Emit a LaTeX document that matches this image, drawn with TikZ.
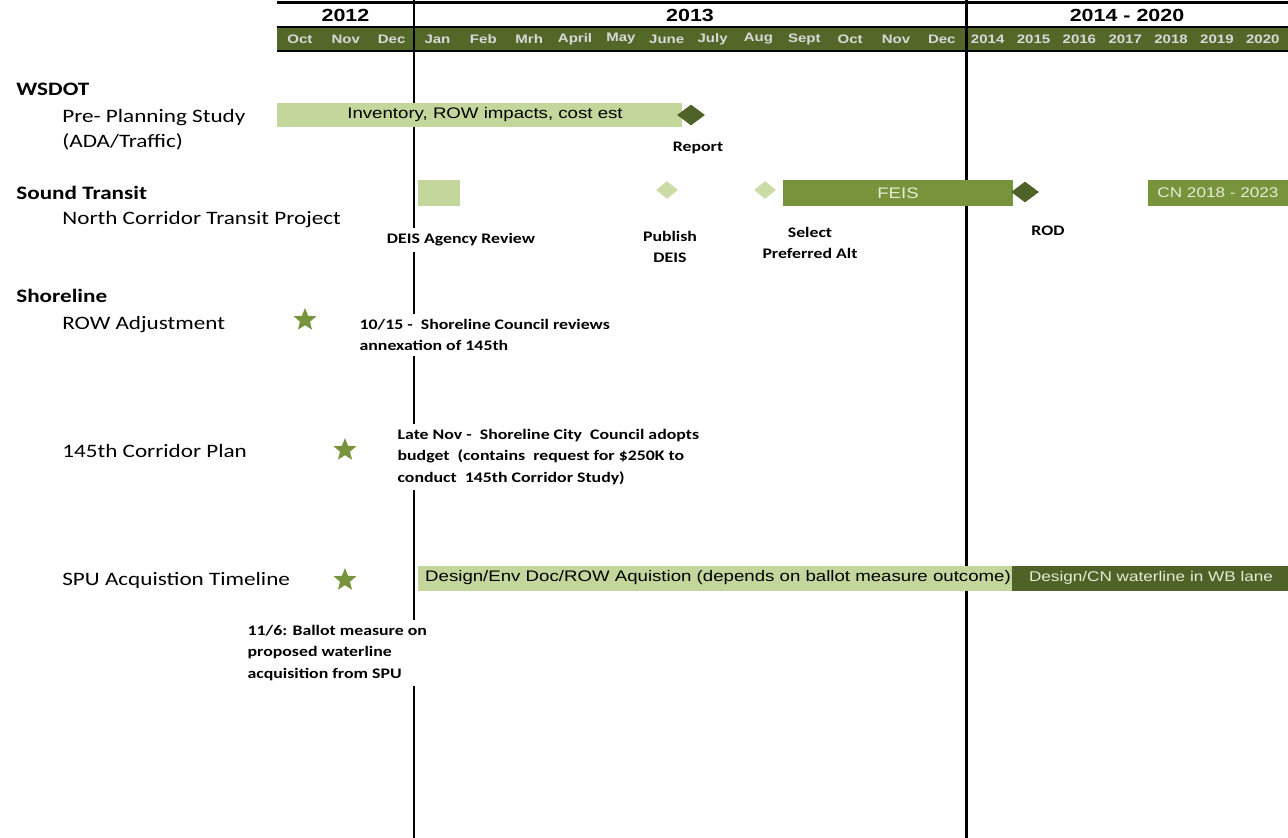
\documentclass[tikz,border=0pt]{standalone}
\usepackage{fontspec}
\setmainfont{Carlito}[FakeStretch=1.22]
\newfontfamily\arialfont{Liberation Sans}[FakeStretch=1.22]
\usepackage{tikz}
\usetikzlibrary{shapes.geometric}
\definecolor{bandgreen}{HTML}{536729}
\definecolor{darkolive}{HTML}{4F6228}
\definecolor{midolive}{HTML}{77933C}
\definecolor{lightolive}{HTML}{C3D69B}
\definecolor{paleolive}{HTML}{CCDCA6}
\definecolor{monthgrey}{HTML}{D9D9D9}
\definecolor{bartext}{HTML}{E6EDD5}
\tikzset{
  grid line/.style={line width=1.7pt},
  band line/.style={line width=1.2pt},
  year/.style={font=\arialfont\bfseries\fontsize{10}{12}\selectfont},
  month/.style={text=monthgrey, font=\arialfont\bfseries\fontsize{7}{8}\selectfont},
  group/.style={anchor=base west, inner sep=0pt, font=\bfseries\fontsize{10.8}{13}\selectfont},
  task/.style={anchor=base west, inner sep=0pt, font=\fontsize{10.8}{13}\selectfont},
  bar label/.style={font=\arialfont\fontsize{8.7}{10}\selectfont},
  small bar label/.style={text=bartext, font=\arialfont\fontsize{8}{10}\selectfont},
  note/.style={fill=white, inner sep=3pt, align=left, font=\bfseries\fontsize{8.3}{12.3}\selectfont},
  milestone/.style={diamond, inner sep=0pt, minimum width=0.56cm, minimum height=0.42cm, fill=darkolive},
  minor milestone/.style={diamond, inner sep=0pt, minimum width=0.44cm, minimum height=0.36cm, fill=paleolive},
  event/.style={star, star points=5, star point ratio=2.3, inner sep=0pt, minimum size=0.48cm, fill=midolive}
}

\begin{document}
\begin{tikzpicture}[x=0.02cm, y=-0.02cm]
  \useasboundingbox (0,0) rectangle (1288,838);
  \fill[bandgreen] (277,27) rectangle (1288,51);
  \draw[grid line] (277,2.5) -- (1288,2.5);
  \draw[band line] (277,27) -- (1288,27);
  \draw[band line] (277,51) -- (1288,51);
  \draw[grid line] (414,0) -- (414,838);
  \draw[grid line] (966,0) -- (966,838);

  \node (y2012) [year] at (345.5,15) {2012};
  \node (y2013) [year] at (690,15) {2013};
  \node (y2014) [year] at (1127,15) {2014 - 2020};
  \foreach \m [count=\i from 0] in {Oct,Nov,Dec,Jan,Feb,Mrh,April,May,June,July,Aug,Sept,Oct,Nov,Dec,2014,2015,2016,2017,2018,2019,2020}
    \node (month\i) [month] at ({277+45.85*(\i+0.5)},39) {\m};

  \node (wsdot) [group] at (16,95) {WSDOT};
  \node (preplan) [task] at (62,123) {Pre- Planning Study};
  \node (adatraffic) [task] at (62,148) {(ADA/Traffic)};
  \node (soundtransit) [group] at (16,199) {Sound Transit};
  \node (northcorridor) [task] at (62,224) {North Corridor Transit Project};
  \node (shoreline) [group] at (16,302) {Shoreline};
  \node (rowadjust) [task] at (62,329) {ROW Adjustment};
  \node (corridorplan) [task] at (62,457) {145th Corridor Plan};
  \node (spu) [task] at (62,585) {SPU Acquistion Timeline};

  \fill[lightolive] (277,103) rectangle (682,127);
  \node (inventory) [bar label] at (485,115) {Inventory, ROW impacts, cost est};
  \node (report) [milestone] at (691,115) {};
  \node (reportlbl) [note] at (698,148) {Report};

  \fill[lightolive] (418,180) rectangle (460,206);
  \node (publish) [minor milestone] at (667,190) {};
  \node (select) [minor milestone] at (765,190) {};
  \fill[midolive] (783,180) rectangle (1013,206);
  \node (feis) [bar label, text=bartext] at (898,193) {FEIS};
  \node (rod) [milestone] at (1025,192) {};
  \fill[midolive] (1148,180) rectangle (1288,206);
  \node (cn) [small bar label] at (1218,193) {CN 2018 - 2023};
  \node (deislbl) [note] at (461,240) {DEIS Agency Review};
  \node (publishlbl) [note, align=center] at (670,247) {Publish\\DEIS};
  \node (selectlbl) [note, align=center] at (810,243) {Select\\Preferred Alt};
  \node (rodlbl) [note] at (1048,231) {ROD};

  \node (rowstar) [event] at (305,320) {};
  \node (rownote) [note, anchor=west] at (354,335) {10/15 -\ \ Shoreline Council reviews\\annexation of 145th};
  \node (planstar) [event] at (345,450) {};
  \node (plannote) [note, anchor=west] at (392,457) {Late Nov -\ \ Shoreline City\ \ Council adopts\\budget\ \ (contains\ \ request for \$250K to\\conduct\ \ 145th Corridor Study)};

  \node (spustar) [event] at (345,580) {};
  \fill[lightolive] (418,566) rectangle (1012,591);
  \fill[darkolive] (1012,566) rectangle (1288,591);
  \node (spudesign) [bar label, anchor=west] at (419,578) {Design/Env Doc/ROW Aquistion (depends on ballot measure outcome)};
  \node (spucn) [small bar label] at (1151,578) {Design/CN waterline in WB lane};
  \node (ballot) [note, anchor=west] at (242,653) {11/6: Ballot measure on\\proposed waterline\\acquisition from SPU};
\end{tikzpicture}
\end{document}
